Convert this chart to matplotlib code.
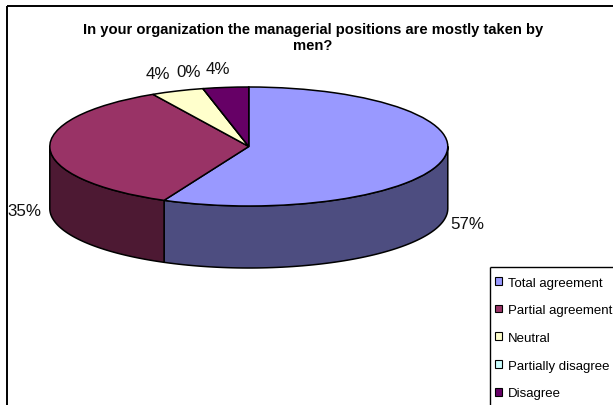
import numpy as np
import matplotlib
matplotlib.use("Agg")
import matplotlib.pyplot as plt
from matplotlib.patches import Patch, Polygon

plt.rcParams['font.family'] = ['Liberation Sans', 'DejaVu Sans']

title = "In your organization the managerial positions are mostly taken by\nmen?"
categories = ["Total agreement", "Partial agreement", "Neutral", "Partially disagree", "Disagree"]
values = [57.0, 35.0, 4.3, 0.0, 3.7]
colors = ["#9999FF", "#993366", "#FFFFCC", "#CCFFFF", "#660066"]
side_colors = ["#4D4D80", "#4D1933", "#808066", "#668080", "#330033"]

W, H = 613, 406
fig = plt.figure(figsize=(W / 100, H / 100), dpi=100, facecolor="white")

# overlay in pixel coordinates
ov = fig.add_axes([0, 0, 1, 1], zorder=3)
ov.set_xlim(0, W)
ov.set_ylim(H, 0)
ov.axis("off")
ov.patch.set_alpha(0)

# pie axes: unit circle maps onto the ellipse
cx, cy, rx, ry, depth = 248.8, 147.5, 199.0, 59.5, 62.0
d = depth / ry
ax = fig.add_axes([(cx - rx) / W, 1 - (cy + ry + depth) / H, 2 * rx / W, (2 * ry + depth) / H], zorder=1)

# 3D side walls
frac = np.array(values) / sum(values) * 360
start = 90 - np.concatenate([[0], np.cumsum(frac)[:-1]])
end = start - frac
for s, e, c in zip(start, end, side_colors):
    for lo_b, hi_b in [(-180, 0), (-540, -360)]:
        hi = min(s, hi_b)
        lo = max(e, lo_b)
        if hi <= lo:
            continue
        t = np.radians(np.linspace(hi, lo, 80))
        top = np.column_stack([np.cos(t), np.sin(t)])
        bot = top[::-1] - [0, d]
        ax.add_patch(Polygon(np.vstack([top, bot]), closed=True, facecolor=c,
                             edgecolor="black", linewidth=1.1, joinstyle="round"))

ax.pie(values, colors=colors, startangle=90, counterclock=False, radius=1.0,
       wedgeprops=dict(edgecolor="black", linewidth=1.1))
ax.set_aspect("auto")
ax.set_xlim(-1, 1)
ax.set_ylim(-1 - d, 1)
ax.axis("off")
for a in ax.patches:
    a.set_clip_on(False)

# chart frame
ov.plot([6.5, 6.5], [H + 2, 6.5], color="black", lw=1.4, solid_capstyle="butt")
ov.plot([6.5, W + 2], [6.5, 6.5], color="black", lw=1.4, solid_capstyle="butt")

ov.text(313, 38, title, ha="center", va="center", fontsize=10.65, fontweight="bold",
        linespacing=1.22, color="black")

# slice labels
pct = [f"{v:.0f}%" for v in values]
label_xy = [(467, 224.5), (24.5, 211.5), (158, 74.5), (189, 72.5), (218, 69.5)]
for s, (x, y) in zip(pct, label_xy):
    ov.text(x, y, s, ha="center", va="center", fontsize=12.2, color="#111111")

# legend
ov.plot([489.5, 489.5], [H + 2, 267.5], color="black", lw=1.0, solid_capstyle="butt")
ov.plot([489.5, W + 2], [267.5, 267.5], color="black", lw=1.0, solid_capstyle="butt")
handles = [Patch(facecolor=c, edgecolor="black", linewidth=0.8) for c in colors]
leg = ov.legend(handles, categories, loc="upper left",
                bbox_to_anchor=(495 / W, 1 - 277.5 / H), bbox_transform=fig.transFigure,
                fontsize=9.5, frameon=False,
                borderpad=0, labelspacing=1.19, handlelength=0.53, handleheight=0.53,
                handletextpad=0.45, borderaxespad=0)

fig.savefig("out.png", dpi=100)
